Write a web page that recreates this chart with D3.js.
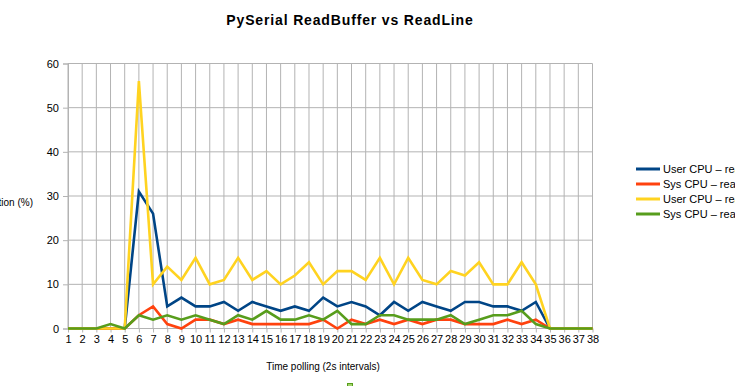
<!DOCTYPE html>
<html><head><meta charset="utf-8">
<script src="https://cdn.jsdelivr.net/npm/d3@7"></script>
<style>body{margin:0;background:#fff;overflow:hidden}svg{display:block}text{font-family:"Liberation Sans",Arial,sans-serif}</style>
</head><body>
<script>
const categories = d3.range(1, 39).map(String);
const userReadline = [0,0,0,0,0,31,26,5,7,5,5,6,4,6,5,4,5,4,7,5,6,5,3,6,4,6,5,4,6,6,5,5,4,6,0,0,0,0];
const sysReadline  = [0,0,0,0,0,3,5,1,0,2,2,1,2,1,1,1,1,1,2,0,2,1,2,1,2,1,2,2,1,1,1,2,1,2,0,0,0,0];
const userReadbuf  = [0,0,0,0,0,56,10,14,11,16,10,11,16,11,13,10,12,15,10,13,13,11,16,10,16,11,10,13,12,15,10,10,15,10,0,0,0,0];
const sysReadbuf   = [0,0,0,1,0,3,2,3,2,3,2,1,3,2,4,2,2,3,2,4,1,1,3,3,2,2,2,3,1,2,3,3,4,1,0,0,0,0];
const seriesNames = ["User CPU \u2013 readline","Sys CPU \u2013 readline","User CPU \u2013 readbuffer","Sys CPU \u2013 readbuffer"];
const seriesColors = ["#004586","#ff420e","#ffd320","#579d1c"];
const yTicks = [0,10,20,30,40,50,60];
const series = [userReadline, sysReadline, userReadbuf, sysReadbuf];

const W = 735, H = 386;
const svg = d3.select("body").append("svg").attr("width", W).attr("height", H);
const x = d3.scalePoint().domain(categories).range([68, 592.5]);
const y = d3.scaleLinear().domain([0, 60]).range([328.5, 63.5]);

// gridlines
const g = svg.append("g");
g.selectAll("line.v").data(categories).join("line")
  .attr("x1", d => x(d)).attr("x2", d => x(d)).attr("y1", y(60)).attr("y2", y(0))
  .attr("stroke", "#b3b3b3").attr("stroke-width", 1);
g.selectAll("line.h").data(yTicks).join("line")
  .attr("x1", x("1")).attr("x2", x("38")).attr("y1", d => y(d)).attr("y2", d => y(d))
  .attr("stroke", "#b3b3b3").attr("stroke-width", 1);

// axes
const yAxis = svg.append("g").attr("transform", `translate(${x("1")},0)`)
  .call(d3.axisLeft(y).tickValues(yTicks).tickSize(5).tickPadding(4));
yAxis.select(".domain").attr("stroke", "#b3b3b3");
yAxis.selectAll(".tick line").attr("stroke", "#b3b3b3");
yAxis.selectAll("text").attr("font-size", 11).attr("fill", "#000");

const xAxis = svg.append("g").attr("transform", `translate(0,${y(0)})`)
  .call(d3.axisBottom(x).tickSize(4).tickPadding(3));
xAxis.select(".domain").remove();
xAxis.selectAll(".tick line").attr("stroke", "#b3b3b3");
xAxis.selectAll("text").attr("font-size", 11).attr("fill", "#000");

// lines
const line = d3.line().x((d, i) => x(categories[i])).y(d => y(d));
series.forEach((s, k) => {
  svg.append("path").datum(s).attr("d", line).attr("fill", "none")
    .attr("stroke", seriesColors[k]).attr("stroke-width", 2.6).attr("stroke-linejoin", "miter");
});

// title
svg.append("text").attr("x", 350).attr("y", 25).attr("text-anchor", "middle")
  .attr("font-size", 14).attr("font-weight", "bold").attr("letter-spacing", 0.85).text("PySerial ReadBuffer vs ReadLine");

// axis titles
svg.append("text").attr("x", 323).attr("y", 370).attr("text-anchor", "middle")
  .attr("font-size", 10).text("Time polling (2s intervals)");
svg.append("text").attr("x", 33).attr("y", 206).attr("text-anchor", "end")
  .attr("font-size", 10).text("CPU utilization (%)");

// legend
const legY = [169, 184, 199, 214];
seriesNames.forEach((n, k) => {
  svg.append("line").attr("x1", 636).attr("x2", 660).attr("y1", legY[k]).attr("y2", legY[k])
    .attr("stroke", seriesColors[k]).attr("stroke-width", 3);
  svg.append("text").attr("x", 663).attr("y", legY[k] + 4).attr("font-size", 11).text(n);
});

// partial marker at bottom
svg.append("rect").attr("x", 347.5).attr("y", 383.5).attr("width", 5).attr("height", 5)
  .attr("fill", "#9fd36b").attr("stroke", "#579d1c");
</script>
</body></html>
